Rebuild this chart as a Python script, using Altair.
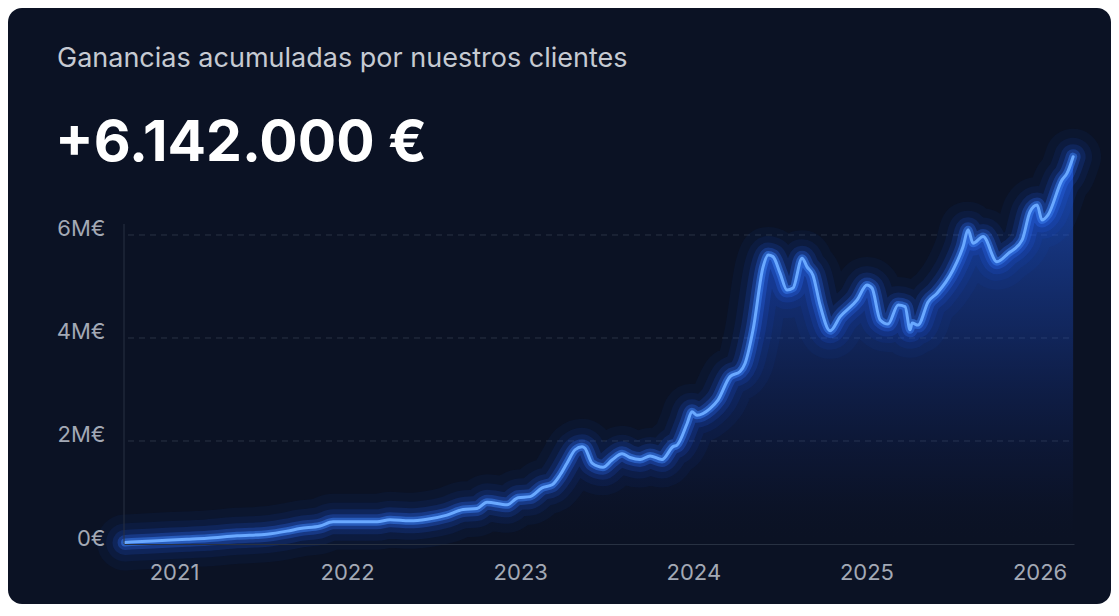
import altair as alt
import pandas as pd

# ---- data ----
years = [2020.717, 2020.879, 2021.075, 2021.191, 2021.364, 2021.537, 2021.653, 2021.728,
         2021.843, 2021.919, 2022.034, 2022.173, 2022.248, 2022.363, 2022.462, 2022.577,
         2022.670, 2022.750, 2022.808, 2022.924, 2022.987, 2023.057, 2023.126, 2023.184,
         2023.230, 2023.270, 2023.317, 2023.357, 2023.374, 2023.415, 2023.478, 2023.530,
         2023.588, 2023.634, 2023.692, 2023.750, 2023.819, 2023.883, 2023.906, 2023.964,
         2023.992, 2024.021, 2024.096, 2024.143, 2024.212, 2024.270, 2024.299, 2024.345,
         2024.403, 2024.432, 2024.460, 2024.501, 2024.541, 2024.576, 2024.628, 2024.657,
         2024.691, 2024.732, 2024.790, 2024.847, 2024.946, 2025.003, 2025.032, 2025.079,
         2025.125, 2025.183, 2025.223, 2025.252, 2025.264, 2025.298, 2025.356, 2025.408,
         2025.500, 2025.558, 2025.587, 2025.616, 2025.674, 2025.754, 2025.818, 2025.899,
         2025.945, 2025.986, 2026.014, 2026.049, 2026.130, 2026.159, 2026.194]
values_m = [0.03, 0.06, 0.09, 0.11, 0.16, 0.19, 0.25, 0.30,
            0.35, 0.43, 0.43, 0.43, 0.47, 0.45, 0.48, 0.56,
            0.67, 0.69, 0.81, 0.76, 0.90, 0.92, 1.09, 1.15,
            1.34, 1.57, 1.83, 1.89, 1.86, 1.57, 1.49, 1.63,
            1.75, 1.68, 1.64, 1.71, 1.64, 1.89, 1.92, 2.34,
            2.57, 2.50, 2.63, 2.80, 3.25, 3.35, 3.51, 4.16,
            5.38, 5.61, 5.58, 5.26, 4.93, 4.97, 5.55, 5.38,
            5.22, 4.64, 4.14, 4.41, 4.74, 5.03, 4.97, 4.35,
            4.27, 4.64, 4.61, 4.16, 4.29, 4.25, 4.70, 4.87,
            5.32, 5.77, 6.10, 5.84, 5.97, 5.48, 5.64, 5.90,
            6.45, 6.58, 6.29, 6.39, 7.07, 7.20, 7.52]
year_ticks = [2021, 2022, 2023, 2024, 2025, 2026]
value_ticks = [0, 2, 4, 6]
grid_values = [2, 4, 6]
title_text = "Ganancias acumuladas por nuestros clientes"
headline_text = "+6.142.000 €"

df = pd.DataFrame({"year": years, "value": values_m})
grid_df = pd.DataFrame({"value": grid_values})
one = pd.DataFrame({"k": [0]})

W, H = 950, 391
PAD = {"left": 116, "top": 145, "right": 37, "bottom": 60}
CARD = "#0b1224"
FONT = "Inter"

x_scale = alt.Scale(domain=[2020.711, 2026.199], nice=False, zero=False)
y_scale = alt.Scale(domain=[0, 7.592], nice=False)

x_enc = alt.X(
    "year:Q", scale=x_scale,
    axis=alt.Axis(values=year_ticks, format="d", title=None, ticks=False,
                  labelPadding=18, labelFontSize=22, labelColor="#a3a9b5",
                  labelFont=FONT, grid=False, domain=True,
                  domainColor="#283142", domainWidth=1, zindex=1),
)
y_enc = alt.Y(
    "value:Q", scale=y_scale,
    axis=alt.Axis(values=value_ticks, title=None, ticks=False, domain=False,
                  labelExpr="datum.value == 0 ? '0€' : datum.value + 'M€'",
                  labelPadding=19, labelFontSize=22, labelColor="#a3a9b5",
                  labelFont=FONT, labelBaseline="alphabetic", labelOffset=1,
                  grid=False, zindex=1),
)

card = alt.Chart(one).mark_rect(color=CARD, cornerRadius=14).encode(
    x=alt.value(-PAD["left"]), x2=alt.value(W + PAD["right"]),
    y=alt.value(-PAD["top"]), y2=alt.value(H + PAD["bottom"]),
)

grid = alt.Chart(grid_df).mark_rule(color="#2a3345", strokeWidth=1,
                                    strokeDash=[6, 5]).encode(
    y=y_enc, x=alt.value(4), x2=alt.value(W),
)

yline = alt.Chart(one).mark_rule(color="#283142", strokeWidth=1).encode(
    x=alt.value(0), y=alt.value(71), y2=alt.value(H),
)

area = alt.Chart(df).mark_area(
    interpolate="monotone",
    color=alt.Gradient(
        gradient="linear",
        stops=[
            alt.GradientStop(color="rgba(37,99,235,0.62)", offset=0),
            alt.GradientStop(color="rgba(30,80,210,0.32)", offset=0.45),
            alt.GradientStop(color="rgba(20,50,150,0.07)", offset=0.85),
            alt.GradientStop(color="rgba(11,18,36,0)", offset=1),
        ],
        x1=1, x2=1, y1=0, y2=1,
    ),
).encode(x=x_enc, y=y_enc)

glows = []
for w, op, col in [(56, 0.05, "#1d5cff"), (38, 0.08, "#1d5cff"),
                   (25, 0.14, "#2563ff"), (15, 0.26, "#2f6fff"),
                   (8, 0.5, "#3b82f6")]:
    glows.append(
        alt.Chart(df).mark_line(interpolate="monotone", color=col, strokeWidth=w,
                                opacity=op, strokeCap="round", strokeJoin="round")
        .encode(x=x_enc, y=y_enc)
    )

core = alt.Chart(df).mark_line(interpolate="monotone", color="#6aa9ff",
                               strokeWidth=3, strokeCap="round",
                               strokeJoin="round").encode(x=x_enc, y=y_enc)

title = alt.Chart(one).mark_text(
    text=title_text, font=FONT, fontSize=27, color="#c6cad2",
    align="left", baseline="alphabetic",
).encode(x=alt.value(-67), y=alt.value(-86))

headline = alt.Chart(one).mark_text(
    text=headline_text, font=FONT, fontSize=57, fontWeight="bold",
    color="#ffffff", align="left", baseline="alphabetic",
).encode(x=alt.value(-69), y=alt.value(8))

chart = alt.layer(card, grid, area, *glows, core, yline, title, headline).properties(
    width=W, height=H, padding=PAD, autosize="none", background="#ffffff",
).configure_view(stroke=None)

chart.save("out.html", embed_options={"renderer": "svg", "actions": False})
